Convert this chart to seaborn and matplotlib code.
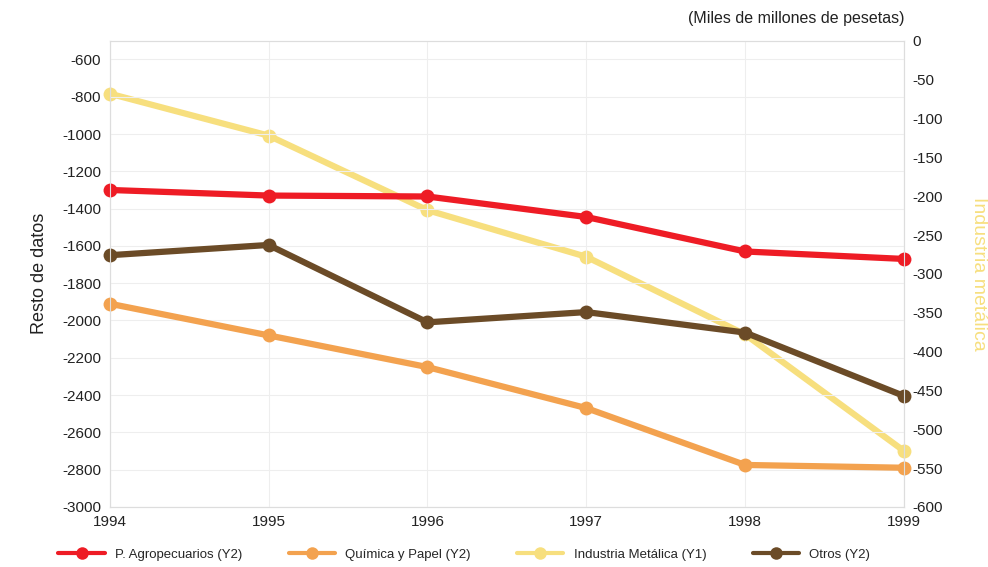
import seaborn as sns
import matplotlib.pyplot as plt
import pandas as pd
from matplotlib.lines import Line2D

# Data
years = [1994, 1995, 1996, 1997, 1998, 1999]
agropecuarios = [-1300, -1330, -1335, -1445, -1630, -1670]
quimica_papel = [-1910, -2080, -2250, -2470, -2775, -2790]
otros = [-1650, -1595, -2010, -1955, -2065, -2405]
ind_metalica = [-68, -122, -218, -278, -378, -528]

left_ticks = list(range(-3000, -599, 200))
right_ticks = list(range(-600, 1, 50))

sns.set_style("white")
plt.rcParams['font.family'] = ['Liberation Sans', 'DejaVu Sans']
plt.rcParams['axes.unicode_minus'] = False

fig = plt.figure(figsize=(9.88, 5.67), dpi=100)
ax = fig.add_axes([0.111, 0.106, 0.804, 0.822])
ax2 = ax.twinx()

red = '#ee1c25'
orange = '#f3a24f'
yellow = '#f7df7e'
brown = '#6b4b27'

df = pd.DataFrame({'year': years, 'agro': agropecuarios, 'quim': quimica_papel,
                   'otros': otros, 'metal': ind_metalica})

lw = 4.5
ms = 10
sns.lineplot(data=df, x='year', y='metal', ax=ax2, color=yellow, lw=lw,
             marker='o', markersize=ms, markeredgewidth=0, clip_on=False)
sns.lineplot(data=df, x='year', y='agro', ax=ax, color=red, lw=lw,
             marker='o', markersize=ms, markeredgewidth=0, clip_on=False)
sns.lineplot(data=df, x='year', y='quim', ax=ax, color=orange, lw=lw,
             marker='o', markersize=ms, markeredgewidth=0, clip_on=False)
sns.lineplot(data=df, x='year', y='otros', ax=ax, color=brown, lw=lw,
             marker='o', markersize=ms, markeredgewidth=0, clip_on=False)

# left axis above the twin so its lines overlay the yellow series
ax.set_zorder(ax2.get_zorder() + 1)
ax.patch.set_visible(False)

ax.set_xlim(1994, 1999)
ax.set_ylim(-3000, -500)
ax.set_yticks(left_ticks)
ax.set_xticks(years)
ax2.set_ylim(-600, 0)
ax2.set_yticks(right_ticks)

ax.set_xlabel('')
ax.set_ylabel('Resto de datos', fontsize=13, color='#222222', labelpad=10)
ax2.set_ylabel('Industria metálica', fontsize=14, color=yellow, rotation=270, labelpad=32)

for a in (ax, ax2):
    a.tick_params(axis='both', length=0, labelsize=11, colors='#222222', pad=6)
    for s in a.spines.values():
        s.set_color('#dddddd')
        s.set_linewidth(0.8)

ax.grid(True, color='#eeeeee', lw=0.8)

fig.text(0.915, 0.955, '(Miles de millones de pesetas)', ha='right', va='bottom',
         fontsize=11.5, color='#222222')

# legend in the reference order
names = ['P. Agropecuarios (Y2)', 'Química y Papel (Y2)', 'Industria Metálica (Y1)', 'Otros (Y2)']
cols = [red, orange, yellow, brown]
handles = [Line2D([], [], color=c, lw=3, marker='o', markersize=9, markeredgewidth=0) for c in cols]
fig.legend(handles, names, loc='lower center', bbox_to_anchor=(0.47, -0.01), ncol=4,
           frameon=False, fontsize=9.5, handlelength=3.5, columnspacing=3.5)

fig.savefig('out.png', dpi=100)
